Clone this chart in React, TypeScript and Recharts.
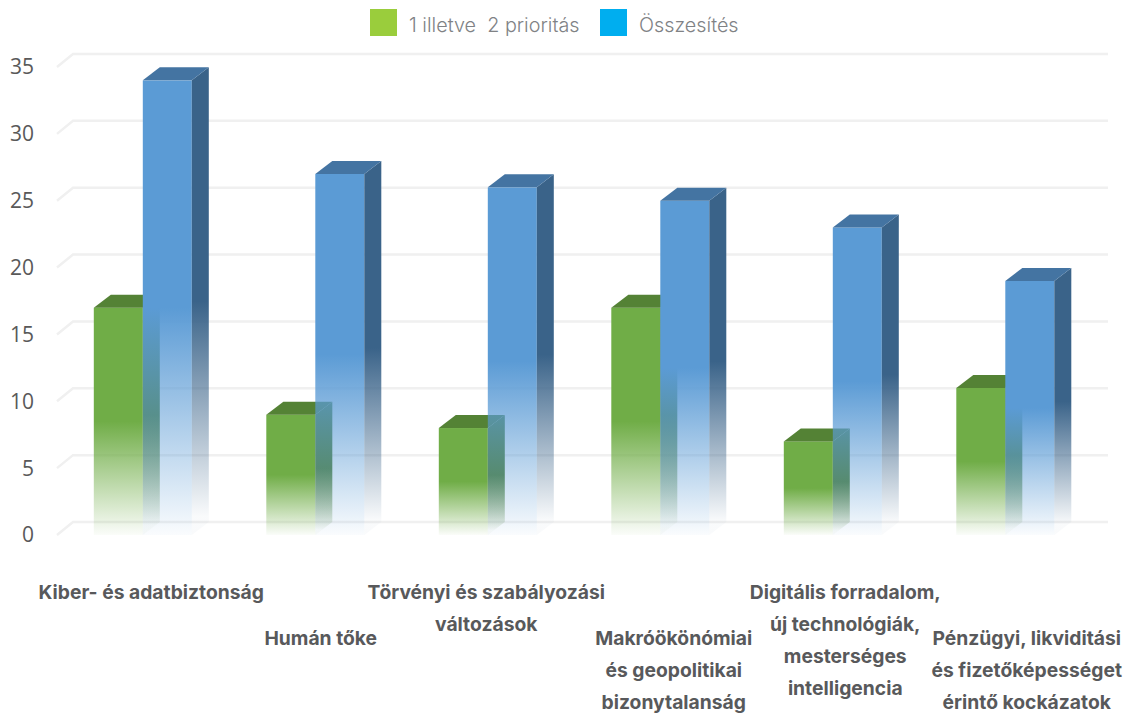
import { BarChart, Bar, XAxis, YAxis, CartesianGrid, Legend } from 'recharts';

const categories = [
  'Kiber- és adatbiztonság',
  'Humán tőke',
  'Törvényi és szabályozási|változások',
  'Makróökönómiai|és geopolitikai|bizonytalanság',
  'Digitális forradalom,|új technológiák,|mesterséges|intelligencia',
  'Pénzügyi, likviditási|és fizetőképességet|érintő kockázatok',
];
const priorityValues = [17, 9, 8, 17, 7, 11];
const totalValues = [34, 27, 26, 25, 23, 19];
const yTicks = [0, 5, 10, 15, 20, 25, 30, 35];

const data = categories.map((name, i) => ({
  name,
  priority: priorityValues[i],
  total: totalValues[i],
}));

// depth of the fake 3d extrusion
const DX = 17;
const DY = 13;

// labels do not sit exactly under their bars in the original
const labelNudge = [8, 5, -2, 13, 12, 21];

function Bar3D(props: any) {
  const { x, y, width, height, prefix, topColor } = props;
  const right = x + width;
  const bottom = y + height;
  return (
    <g>
      <rect x={x} y={y} width={width} height={height} fill={`url(#${prefix}Front)`} />
      <polygon
        points={`${right},${y} ${right + DX},${y - DY} ${right + DX},${bottom - DY} ${right},${bottom}`}
        fill={`url(#${prefix}Side)`}
      />
      <polygon
        points={`${x},${y} ${x + DX},${y - DY} ${right + DX},${y - DY} ${right},${y}`}
        fill={topColor}
      />
    </g>
  );
}

function GridLine(props: any) {
  const { x1, x2, y1 } = props;
  return (
    <path
      d={`M${x1},${y1} L${x1 + 16},${y1 - DY} L${x2 + 16},${y1 - DY}`}
      fill="none"
      stroke="#f0f0f0"
      strokeWidth={2.5}
    />
  );
}

function CategoryTick(props: any) {
  const { x, y, payload, index } = props;
  const lines = String(payload.value).split('|');
  const firstLine = index % 2 === 0 ? 59 : 105;
  return (
    <text
      textAnchor="middle"
      fontFamily="Inter, sans-serif"
      fontWeight={700}
      fontSize={19.3}
      fill="#58595b"
    >
      {lines.map((line, i) => (
        <tspan key={line} x={x + labelNudge[index]} y={y + firstLine + i * 32 - 3}>
          {line}
        </tspan>
      ))}
    </text>
  );
}

function LegendRow({ payload }: any) {
  return (
    <div style={{ position: 'relative', height: 27, width: 1127 }}>
      {(payload || []).map((entry: any, i: number) => (
        <div
          key={entry.value}
          style={{
            position: 'absolute',
            left: i === 0 ? 370 : 600,
            top: 0,
            display: 'flex',
            alignItems: 'center',
            height: 27,
          }}
        >
          <span style={{ width: 27, height: 27, background: entry.color, marginRight: 12 }} />
          <span
            style={{
              whiteSpace: 'pre',
              fontFamily: 'Inter, sans-serif',
              fontWeight: 300,
              fontSize: 19.8,
              lineHeight: '31px',
              position: 'relative',
              top: 3,
              color: '#808285',
            }}
          >
            {entry.value}
          </span>
        </div>
      ))}
    </div>
  );
}

function FadeGradient({ id, color, end = 100 }: { id: string; color: string; end?: number }) {
  return (
    <linearGradient id={id} x1="0" y1="0" x2="0" y2="1">
      <stop offset="0%" stopColor={color} stopOpacity={1} />
      <stop offset="50%" stopColor={color} stopOpacity={1} />
      <stop offset={`${end}%`} stopColor={color} stopOpacity={0.03} />
    </linearGradient>
  );
}

export default function App() {
  return (
    <div style={{ position: 'absolute', left: 0, top: 0, width: 1127, height: 714, background: '#fff' }}>
      <BarChart
        width={1127}
        height={714}
        data={data}
        margin={{ top: 40, right: 35, bottom: 0, left: 0 }}
        barCategoryGap={36.8}
        barGap={0}
      >
        <defs>
          <FadeGradient id="greenFront" color="#70ad47" />
          <FadeGradient id="greenSide" color="#548235" end={96} />
          <FadeGradient id="blueFront" color="#5b9bd5" />
          <FadeGradient id="blueSide" color="#3a6389" end={96} />
        </defs>
        <CartesianGrid vertical={false} horizontal={GridLine as any} />
        <XAxis
          dataKey="name"
          height={179}
          axisLine={false}
          tickLine={false}
          interval={0}
          tick={CategoryTick as any}
        />
        <YAxis
          width={57}
          domain={[0, 35]}
          ticks={yTicks}
          axisLine={false}
          tickLine={false}
          tickSize={0}
          tickMargin={23}
          tick={{ fontFamily: '"Open Sans", sans-serif', fontSize: 21, fill: '#595959' }}
        />
        <Legend
          verticalAlign="top"
          content={LegendRow as any}
          wrapperStyle={{ position: 'absolute', left: 0, top: 9, width: 1127 }}
        />
        <Bar
          dataKey="priority"
          name="1 illetve  2 prioritás"
          fill="#9acd3c"
          isAnimationActive={false}
          shape={(p: any) => <Bar3D {...p} prefix="green" topColor="#548235" />}
        />
        <Bar
          dataKey="total"
          name="Összesítés"
          fill="#00aeef"
          isAnimationActive={false}
          shape={(p: any) => <Bar3D {...p} prefix="blue" topColor="#4474a2" />}
        />
      </BarChart>
    </div>
  );
}
